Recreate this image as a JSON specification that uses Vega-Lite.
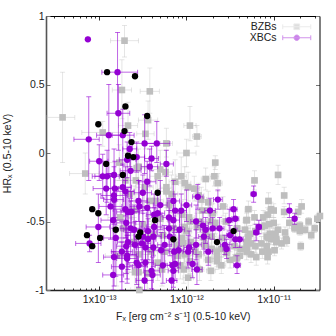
{"$schema":"https://vega.github.io/schema/vega-lite/v6.json","width":273.5,"height":274,"autosize":"none","padding":{"left":46,"top":16,"right":16,"bottom":46},"background":"white",
"config":{"view":{"stroke":null},"font":"Liberation Sans","axis":{"grid":false,"labelFont":"Liberation Sans","titleFont":"Liberation Sans","labelFontSize":10.5,"titleFontSize":10.5,"titleFontWeight":"normal","labelColor":"#222222","titleColor":"#222222","domainColor":"#000000","tickColor":"#333333","labelOverlap":false,"labelFlush":false,"zindex":1}},
"datasets":{
"bzb":[
{"x":-13.42,"y":0.26,"xl":-13.6,"xh":-13.28,"yl":-0.07,"yh":0.59},{"x":-12.71,"y":0.82,"xl":-12.87,"xh":-12.55,"yl":0.7,"yh":0.93},{"x":-12.74,"y":0.46,"xl":-12.85,"xh":-12.63,"yl":0.25,"yh":0.68},{"x":-12.42,"y":0.45,"xl":-12.53,"xh":-12.31,"yl":0.29,"yh":0.62},{"x":-12.96,"y":0.15,"xl":-13.2,"xh":-12.72,"yl":0.05,"yh":0.23},{"x":-12.67,"y":0.2,"xl":-12.78,"xh":-12.56,"yl":0.05,"yh":0.37},{"x":-12.44,"y":0.24,"xl":-12.55,"xh":-12.33,"yl":0.1,"yh":0.38},{"x":-12.47,"y":0.14,"xl":-12.57,"xh":-12.37,"yl":0.03,"yh":0.25},{"x":-12.23,"y":0.07,"xl":-12.3,"xh":-12.16,"yl":-0.03,"yh":0.18},{"x":-12.77,"y":-0.07,"xl":-12.9,"xh":-12.64,"yl":-0.2,"yh":0.06},{"x":-12.57,"y":-0.11,"xl":-12.67,"xh":-12.47,"yl":-0.22,"yh":0},{"x":-11.96,"y":0.2,"xl":-12.03,"xh":-11.89,"yl":0.09,"yh":0.34},{"x":-11.88,"y":0.12,"xl":-11.93,"xh":-11.83,"yl":0.05,"yh":0.2},{"x":-12,"y":0,"xl":-12.11,"xh":-11.89,"yl":-0.1,"yh":0.1},{"x":-11.67,"y":-0.07,"xl":-11.7,"xh":-11.64,"yl":-0.12,"yh":-0.02},{"x":-11.68,"y":-0.17,"xl":-11.73,"xh":-11.63,"yl":-0.24,"yh":-0.1},{"x":-11.78,"y":-0.19,"xl":-11.83,"xh":-11.73,"yl":-0.27,"yh":-0.11},{"x":-11.64,"y":-0.22,"xl":-11.69,"xh":-11.59,"yl":-0.28,"yh":-0.15},{"x":-12.06,"y":-0.17,"xl":-12.12,"xh":-12,"yl":-0.3,"yh":-0.03},{"x":-12.13,"y":-0.21,"xl":-12.2,"xh":-12.06,"yl":-0.35,"yh":-0.05},{"x":-12.24,"y":-0.14,"xl":-12.32,"xh":-12.16,"yl":-0.29,"yh":0.02},{"x":-12.02,"y":-0.22,"xl":-12.09,"xh":-11.95,"yl":-0.34,"yh":-0.1},{"x":-11.98,"y":-0.25,"xl":-12.04,"xh":-11.92,"yl":-0.35,"yh":-0.14},{"x":-11.91,"y":-0.26,"xl":-11.97,"xh":-11.85,"yl":-0.35,"yh":-0.17},{"x":-12.23,"y":-0.25,"xl":-12.3,"xh":-12.16,"yl":-0.4,"yh":-0.1},{"x":-12.23,"y":-0.28,"xl":-12.3,"xh":-12.16,"yl":-0.42,"yh":-0.14},{"x":-12.17,"y":-0.3,"xl":-12.24,"xh":-12.1,"yl":-0.44,"yh":-0.16},{"x":-11.86,"y":-0.31,"xl":-11.92,"xh":-11.8,"yl":-0.4,"yh":-0.22},{"x":-11.83,"y":-0.34,"xl":-11.89,"xh":-11.77,"yl":-0.43,"yh":-0.25},{"x":-11.75,"y":-0.36,"xl":-11.81,"xh":-11.69,"yl":-0.44,"yh":-0.28},{"x":-13.16,"y":-0.15,"xl":-13.34,"xh":-13,"yl":-0.3,"yh":0},{"x":-12.33,"y":-0.17,"xl":-12.42,"xh":-12.24,"yl":-0.3,"yh":-0.03},{"x":-12.3,"y":-0.12,"xl":-12.39,"xh":-12.21,"yl":-0.26,"yh":0.02},{"x":-12.55,"y":-0.1,"xl":-12.65,"xh":-12.45,"yl":-0.23,"yh":0.03},{"x":-12.76,"y":-0.47,"xl":-12.9,"xh":-12.62,"yl":-0.7,"yh":-0.25},{"x":-12.55,"y":-0.87,"xl":-12.66,"xh":-12.44,"yl":-1,"yh":-0.72},{"x":-12.54,"y":-1,"xl":-12.64,"xh":-12.44,"yl":-1,"yh":-0.88},{"x":-12.59,"y":-0.87,"xl":-12.7,"xh":-12.48,"yl":-1,"yh":-0.72},
{"x":-12.72,"y":-0.55,"xl":-12.84,"xh":-12.6,"yl":-0.75,"yh":-0.35},{"x":-12.6,"y":-0.42,"xl":-12.7,"xh":-12.5,"yl":-0.6,"yh":-0.24},{"x":-12.5,"y":-0.52,"xl":-12.6,"xh":-12.4,"yl":-0.68,"yh":-0.36},{"x":-12.45,"y":-0.62,"xl":-12.55,"xh":-12.35,"yl":-0.78,"yh":-0.46},{"x":-12.4,"y":-0.72,"xl":-12.5,"xh":-12.3,"yl":-0.88,"yh":-0.56},{"x":-12.55,"y":-0.74,"xl":-12.66,"xh":-12.44,"yl":-0.92,"yh":-0.56},{"x":-12.35,"y":-0.35,"xl":-12.44,"xh":-12.26,"yl":-0.5,"yh":-0.2},{"x":-12.3,"y":-0.48,"xl":-12.38,"xh":-12.22,"yl":-0.62,"yh":-0.34},{"x":-12.27,"y":-0.6,"xl":-12.35,"xh":-12.19,"yl":-0.74,"yh":-0.46},{"x":-12.25,"y":-0.72,"xl":-12.33,"xh":-12.17,"yl":-0.85,"yh":-0.59},{"x":-12.2,"y":-0.38,"xl":-12.27,"xh":-12.13,"yl":-0.5,"yh":-0.26},{"x":-12.15,"y":-0.55,"xl":-12.22,"xh":-12.08,"yl":-0.67,"yh":-0.43},{"x":-12.12,"y":-0.67,"xl":-12.19,"xh":-12.05,"yl":-0.79,"yh":-0.55},{"x":-12.1,"y":-0.75,"xl":-12.17,"xh":-12.03,"yl":-0.87,"yh":-0.63},{"x":-12.05,"y":-0.45,"xl":-12.11,"xh":-11.99,"yl":-0.55,"yh":-0.35},{"x":-12,"y":-0.57,"xl":-12.06,"xh":-11.94,"yl":-0.67,"yh":-0.47},{"x":-11.95,"y":-0.65,"xl":-12.01,"xh":-11.89,"yl":-0.75,"yh":-0.55},{"x":-11.9,"y":-0.72,"xl":-11.96,"xh":-11.84,"yl":-0.82,"yh":-0.62},{"x":-12.65,"y":-0.3,"xl":-12.76,"xh":-12.54,"yl":-0.48,"yh":-0.12},{"x":-12.58,"y":-0.2,"xl":-12.69,"xh":-12.47,"yl":-0.36,"yh":-0.04},{"x":-12.48,"y":-0.25,"xl":-12.58,"xh":-12.38,"yl":-0.4,"yh":-0.1},{"x":-12.42,"y":-0.35,"xl":-12.52,"xh":-12.32,"yl":-0.5,"yh":-0.2},{"x":-12.38,"y":-0.6,"xl":-12.47,"xh":-12.29,"yl":-0.74,"yh":-0.46},{"x":-12.33,"y":-0.8,"xl":-12.42,"xh":-12.24,"yl":-0.93,"yh":-0.67},{"x":-12.28,"y":-0.85,"xl":-12.36,"xh":-12.2,"yl":-0.97,"yh":-0.73},{"x":-12.45,"y":-0.88,"xl":-12.55,"xh":-12.35,"yl":-1,"yh":-0.74},{"x":-12.6,"y":-0.65,"xl":-12.7,"xh":-12.5,"yl":-0.83,"yh":-0.47},{"x":-12.8,"y":-0.75,"xl":-12.93,"xh":-12.67,"yl":-0.97,"yh":-0.53},{"x":-12.7,"y":-0.2,"xl":-12.82,"xh":-12.58,"yl":-0.4,"yh":0},{"x":-11.85,"y":-0.5,"xl":-11.91,"xh":-11.79,"yl":-0.58,"yh":-0.42},{"x":-11.78,"y":-0.58,"xl":-11.83,"xh":-11.73,"yl":-0.65,"yh":-0.51},{"x":-11.72,"y":-0.5,"xl":-11.77,"xh":-11.67,"yl":-0.57,"yh":-0.43},{"x":-11.6,"y":-0.7,"xl":-11.65,"xh":-11.55,"yl":-0.76,"yh":-0.64},
{"x":-12.05,"y":-0.62,"xl":-12.11,"xh":-11.99,"yl":-0.72,"yh":-0.52},{"x":-11.97,"y":-0.47,"xl":-12.03,"xh":-11.91,"yl":-0.56,"yh":-0.38},{"x":-11.82,"y":-0.42,"xl":-11.87,"xh":-11.77,"yl":-0.5,"yh":-0.34},{"x":-11.7,"y":-0.44,"xl":-11.75,"xh":-11.65,"yl":-0.51,"yh":-0.37},{"x":-11.55,"y":-0.5,"xl":-11.6,"xh":-11.5,"yl":-0.56,"yh":-0.44},{"x":-11.5,"y":-0.78,"xl":-11.54,"xh":-11.46,"yl":-0.84,"yh":-0.72},{"x":-11.6,"y":-0.82,"xl":-11.65,"xh":-11.55,"yl":-0.88,"yh":-0.76},{"x":-11.85,"y":-0.85,"xl":-11.9,"xh":-11.8,"yl":-0.93,"yh":-0.77},{"x":-11.8,"y":-0.62,"xl":-11.85,"xh":-11.75,"yl":-0.7,"yh":-0.54},{"x":-11.45,"y":-0.68,"xl":-11.49,"xh":-11.41,"yl":-0.74,"yh":-0.62},{"x":-11.38,"y":-0.7,"xl":-11.42,"xh":-11.34,"yl":-0.76,"yh":-0.64},{"x":-11.72,"y":-0.86,"xl":-11.77,"xh":-11.67,"yl":-0.93,"yh":-0.79},
{"x":-11.58,"y":-0.39,"xl":-11.63,"xh":-11.53,"yl":-0.46,"yh":-0.32},{"x":-11.75,"y":-0.42,"xl":-11.8,"xh":-11.7,"yl":-0.5,"yh":-0.34},{"x":-11.31,"y":-0.49,"xl":-11.34,"xh":-11.28,"yl":-0.54,"yh":-0.44},{"x":-11.67,"y":-0.51,"xl":-11.72,"xh":-11.62,"yl":-0.59,"yh":-0.43},{"x":-11.96,"y":-0.5,"xl":-12.02,"xh":-11.9,"yl":-0.61,"yh":-0.39},{"x":-12.02,"y":-0.54,"xl":-12.08,"xh":-11.96,"yl":-0.66,"yh":-0.42},{"x":-11.88,"y":-0.54,"xl":-11.94,"xh":-11.82,"yl":-0.64,"yh":-0.44},{"x":-11.33,"y":-0.56,"xl":-11.36,"xh":-11.3,"yl":-0.61,"yh":-0.51},{"x":-11.42,"y":-0.55,"xl":-11.46,"xh":-11.38,"yl":-0.61,"yh":-0.49},{"x":-11.71,"y":-0.61,"xl":-11.76,"xh":-11.66,"yl":-0.68,"yh":-0.54},{"x":-11.59,"y":-0.62,"xl":-11.64,"xh":-11.54,"yl":-0.69,"yh":-0.55},{"x":-11.31,"y":-0.65,"xl":-11.35,"xh":-11.27,"yl":-0.7,"yh":-0.6},{"x":-11.79,"y":-0.67,"xl":-11.85,"xh":-11.73,"yl":-0.75,"yh":-0.59},{"x":-12.04,"y":-0.66,"xl":-12.1,"xh":-11.98,"yl":-0.77,"yh":-0.55},{"x":-11.65,"y":-0.72,"xl":-11.7,"xh":-11.6,"yl":-0.79,"yh":-0.65},{"x":-11.54,"y":-0.73,"xl":-11.58,"xh":-11.5,"yl":-0.79,"yh":-0.67},{"x":-11.42,"y":-0.76,"xl":-11.46,"xh":-11.38,"yl":-0.81,"yh":-0.71},{"x":-11.75,"y":-0.78,"xl":-11.8,"xh":-11.7,"yl":-0.85,"yh":-0.71},{"x":-11.65,"y":-0.79,"xl":-11.7,"xh":-11.6,"yl":-0.85,"yh":-0.73},{"x":-12.02,"y":-0.74,"xl":-12.08,"xh":-11.96,"yl":-0.84,"yh":-0.64},{"x":-11.96,"y":-0.79,"xl":-12.02,"xh":-11.9,"yl":-0.88,"yh":-0.7},{"x":-11.86,"y":-0.74,"xl":-11.92,"xh":-11.8,"yl":-0.82,"yh":-0.66},{"x":-12.07,"y":-0.82,"xl":-12.13,"xh":-12.01,"yl":-0.92,"yh":-0.72},{"x":-12.03,"y":-0.85,"xl":-12.09,"xh":-11.97,"yl":-0.95,"yh":-0.75},{"x":-11.98,"y":-0.91,"xl":-12.04,"xh":-11.92,"yl":-1,"yh":-0.82},{"x":-11.71,"y":-0.7,"xl":-11.76,"xh":-11.66,"yl":-0.77,"yh":-0.63},
{"x":-11.22,"y":-0.2,"xl":-11.25,"xh":-11.19,"yl":-0.27,"yh":-0.13},{"x":-10.95,"y":-0.16,"xl":-10.98,"xh":-10.92,"yl":-0.23,"yh":-0.09},{"x":-10.88,"y":-0.31,"xl":-10.91,"xh":-10.85,"yl":-0.37,"yh":-0.25},{"x":-11.06,"y":-0.35,"xl":-11.09,"xh":-11.03,"yl":-0.41,"yh":-0.29},{"x":-10.68,"y":-0.39,"xl":-10.71,"xh":-10.65,"yl":-0.44,"yh":-0.34},{"x":-11.29,"y":-0.41,"xl":-11.33,"xh":-11.25,"yl":-0.47,"yh":-0.35},{"x":-11.03,"y":-0.41,"xl":-11.06,"xh":-11,"yl":-0.46,"yh":-0.36},{"x":-11,"y":-0.42,"xl":-11.03,"xh":-10.97,"yl":-0.47,"yh":-0.37},{"x":-10.88,"y":-0.43,"xl":-10.91,"xh":-10.85,"yl":-0.47,"yh":-0.39},{"x":-10.72,"y":-0.43,"xl":-10.75,"xh":-10.69,"yl":-0.47,"yh":-0.39},{"x":-11.31,"y":-0.49,"xl":-11.35,"xh":-11.27,"yl":-0.55,"yh":-0.43},{"x":-11.22,"y":-0.47,"xl":-11.25,"xh":-11.19,"yl":-0.52,"yh":-0.42},{"x":-11.12,"y":-0.47,"xl":-11.15,"xh":-11.09,"yl":-0.52,"yh":-0.42},{"x":-11.07,"y":-0.45,"xl":-11.1,"xh":-11.04,"yl":-0.5,"yh":-0.4},{"x":-10.5,"y":-0.48,"xl":-10.52,"xh":-10.48,"yl":-0.51,"yh":-0.45},{"x":-10.47,"y":-0.46,"xl":-10.49,"xh":-10.45,"yl":-0.49,"yh":-0.43},{"x":-10.82,"y":-0.51,"xl":-10.85,"xh":-10.79,"yl":-0.55,"yh":-0.47},{"x":-10.76,"y":-0.54,"xl":-10.78,"xh":-10.74,"yl":-0.57,"yh":-0.51},{"x":-10.7,"y":-0.53,"xl":-10.72,"xh":-10.68,"yl":-0.56,"yh":-0.5},{"x":-10.6,"y":-0.5,"xl":-10.62,"xh":-10.58,"yl":-0.53,"yh":-0.47},{"x":-10.53,"y":-0.55,"xl":-10.55,"xh":-10.51,"yl":-0.58,"yh":-0.52},{"x":-10.57,"y":-0.6,"xl":-10.59,"xh":-10.55,"yl":-0.63,"yh":-0.57},{"x":-10.64,"y":-0.56,"xl":-10.66,"xh":-10.62,"yl":-0.59,"yh":-0.53},{"x":-10.87,"y":-0.58,"xl":-10.9,"xh":-10.84,"yl":-0.62,"yh":-0.54},{"x":-10.76,"y":-0.55,"xl":-10.78,"xh":-10.74,"yl":-0.58,"yh":-0.52},{"x":-10.7,"y":-0.57,"xl":-10.72,"xh":-10.68,"yl":-0.6,"yh":-0.54},{"x":-11.29,"y":-0.61,"xl":-11.33,"xh":-11.25,"yl":-0.67,"yh":-0.55},{"x":-11.21,"y":-0.57,"xl":-11.24,"xh":-11.18,"yl":-0.62,"yh":-0.52},{"x":-11.14,"y":-0.54,"xl":-11.17,"xh":-11.11,"yl":-0.59,"yh":-0.49},{"x":-11.05,"y":-0.52,"xl":-11.08,"xh":-11.02,"yl":-0.57,"yh":-0.47},{"x":-11,"y":-0.51,"xl":-11.03,"xh":-10.97,"yl":-0.55,"yh":-0.47},{"x":-11.1,"y":-0.53,"xl":-11.13,"xh":-11.07,"yl":-0.58,"yh":-0.48},{"x":-10.95,"y":-0.56,"xl":-10.98,"xh":-10.92,"yl":-0.6,"yh":-0.52},{"x":-10.99,"y":-0.6,"xl":-11.02,"xh":-10.96,"yl":-0.64,"yh":-0.56},{"x":-11.08,"y":-0.61,"xl":-11.11,"xh":-11.05,"yl":-0.66,"yh":-0.56},{"x":-11.03,"y":-0.63,"xl":-11.06,"xh":-11,"yl":-0.67,"yh":-0.59},{"x":-10.97,"y":-0.63,"xl":-11,"xh":-10.94,"yl":-0.67,"yh":-0.59},{"x":-10.86,"y":-0.63,"xl":-10.89,"xh":-10.83,"yl":-0.67,"yh":-0.59},{"x":-10.91,"y":-0.66,"xl":-10.94,"xh":-10.88,"yl":-0.7,"yh":-0.62},{"x":-11.08,"y":-0.68,"xl":-11.11,"xh":-11.05,"yl":-0.73,"yh":-0.63},{"x":-11.14,"y":-0.66,"xl":-11.17,"xh":-11.11,"yl":-0.71,"yh":-0.61},{"x":-11.26,"y":-0.66,"xl":-11.3,"xh":-11.22,"yl":-0.72,"yh":-0.6},{"x":-11.31,"y":-0.69,"xl":-11.35,"xh":-11.27,"yl":-0.75,"yh":-0.63},{"x":-11.2,"y":-0.76,"xl":-11.23,"xh":-11.17,"yl":-0.82,"yh":-0.7},{"x":-11.07,"y":-0.76,"xl":-11.1,"xh":-11.04,"yl":-0.81,"yh":-0.71},{"x":-10.99,"y":-0.71,"xl":-11.02,"xh":-10.96,"yl":-0.75,"yh":-0.67},{"x":-10.69,"y":-0.68,"xl":-10.71,"xh":-10.67,"yl":-0.71,"yh":-0.65},{"x":-11.39,"y":-0.75,"xl":-11.43,"xh":-11.35,"yl":-0.81,"yh":-0.69},{"x":-11.43,"y":-0.77,"xl":-11.47,"xh":-11.39,"yl":-0.83,"yh":-0.71},{"x":-11.26,"y":-0.74,"xl":-11.3,"xh":-11.22,"yl":-0.8,"yh":-0.68},{"x":-11.65,"y":-0.76,"xl":-11.7,"xh":-11.6,"yl":-0.83,"yh":-0.69},{"x":-11.27,"y":-0.59,"xl":-11.31,"xh":-11.23,"yl":-0.65,"yh":-0.53},{"x":-11.04,"y":-0.59,"xl":-11.07,"xh":-11.01,"yl":-0.63,"yh":-0.55},{"x":-10.98,"y":-0.59,"xl":-11.01,"xh":-10.95,"yl":-0.63,"yh":-0.55},{"x":-11.06,"y":-0.62,"xl":-11.09,"xh":-11.03,"yl":-0.66,"yh":-0.58},{"x":-10.97,"y":-0.65,"xl":-11,"xh":-10.94,"yl":-0.69,"yh":-0.61},{"x":-10.85,"y":-0.64,"xl":-10.88,"xh":-10.82,"yl":-0.68,"yh":-0.6},{"x":-11.21,"y":-0.68,"xl":-11.24,"xh":-11.18,"yl":-0.73,"yh":-0.63},{"x":-11.31,"y":-0.72,"xl":-11.35,"xh":-11.27,"yl":-0.78,"yh":-0.66},{"x":-11.13,"y":-0.72,"xl":-11.16,"xh":-11.1,"yl":-0.77,"yh":-0.67},{"x":-11.06,"y":-0.72,"xl":-11.09,"xh":-11.03,"yl":-0.77,"yh":-0.67}
],
"xbc":[
{"x":-13.13,"y":0.83,"xl":-13.13,"xh":-13.13,"yl":0.83,"yh":0.83},{"x":-12.79,"y":0.59,"xl":-12.97,"xh":-12.56,"yl":0.3,"yh":0.88},{"x":-13.12,"y":0.1,"xl":-13.29,"xh":-13,"yl":-0.2,"yh":0.41},{"x":-12.78,"y":0.29,"xl":-12.91,"xh":-12.65,"yl":0.02,"yh":0.5},{"x":-12.89,"y":0.13,"xl":-13.03,"xh":-12.73,"yl":-0.15,"yh":0.5},{"x":-12.73,"y":0.13,"xl":-12.85,"xh":-12.6,"yl":-0.09,"yh":0.32},{"x":-12.48,"y":0.07,"xl":-12.62,"xh":-12.34,"yl":-0.15,"yh":0.28},{"x":-12.34,"y":0.07,"xl":-12.48,"xh":-12.19,"yl":-0.07,"yh":0.23},{"x":-13,"y":-0.06,"xl":-13.11,"xh":-12.9,"yl":-0.2,"yh":0.06},{"x":-12.65,"y":0.03,"xl":-12.73,"xh":-12.57,"yl":-0.1,"yh":0.15},{"x":-12.68,"y":-0.05,"xl":-12.77,"xh":-12.58,"yl":-0.18,"yh":0.08},{"x":-12.57,"y":-0.03,"xl":-12.66,"xh":-12.48,"yl":-0.14,"yh":0.08},{"x":-12.4,"y":-0.04,"xl":-12.48,"xh":-12.32,"yl":-0.13,"yh":0.05},{"x":-12.42,"y":-0.1,"xl":-12.52,"xh":-12.33,"yl":-0.24,"yh":0.03},{"x":-12.23,"y":-0.08,"xl":-12.3,"xh":-12.15,"yl":-0.17,"yh":0.02},{"x":-12.91,"y":-0.17,"xl":-13.05,"xh":-12.77,"yl":-0.36,"yh":0.02},{"x":-12.96,"y":-0.17,"xl":-13.08,"xh":-12.83,"yl":-0.33,"yh":-0.01},{"x":-12.83,"y":-0.16,"xl":-12.96,"xh":-12.7,"yl":-0.36,"yh":0.03},{"x":-12.64,"y":-0.13,"xl":-12.76,"xh":-12.52,"yl":-0.33,"yh":0.05},{"x":-12.45,"y":-0.21,"xl":-12.55,"xh":-12.35,"yl":-0.36,"yh":-0.06},{"x":-12.92,"y":-0.26,"xl":-13.07,"xh":-12.78,"yl":-0.45,"yh":-0.08},{"x":-12.82,"y":-0.26,"xl":-12.94,"xh":-12.7,"yl":-0.47,"yh":-0.06},{"x":-12.73,"y":-0.25,"xl":-12.83,"xh":-12.63,"yl":-0.42,"yh":-0.08},{"x":-12.7,"y":-0.28,"xl":-12.8,"xh":-12.6,"yl":-0.46,"yh":-0.1},{"x":-12.5,"y":-0.29,"xl":-12.6,"xh":-12.4,"yl":-0.42,"yh":-0.16},{"x":-12.83,"y":-0.31,"xl":-12.98,"xh":-12.68,"yl":-0.52,"yh":-0.1},{"x":-12.83,"y":-0.34,"xl":-12.95,"xh":-12.72,"yl":-0.55,"yh":-0.15},{"x":-12.55,"y":-0.35,"xl":-12.65,"xh":-12.45,"yl":-0.5,"yh":-0.2},{"x":-12.7,"y":-0.41,"xl":-12.84,"xh":-12.56,"yl":-0.62,"yh":-0.2},{"x":-12.67,"y":-0.43,"xl":-12.8,"xh":-12.54,"yl":-0.6,"yh":-0.25},{"x":-12.63,"y":-0.43,"xl":-12.75,"xh":-12.5,"yl":-0.58,"yh":-0.28},{"x":-12.54,"y":-0.39,"xl":-12.65,"xh":-12.43,"yl":-0.58,"yh":-0.2},{"x":-12.45,"y":-0.4,"xl":-12.55,"xh":-12.35,"yl":-0.58,"yh":-0.22},{"x":-12.87,"y":-0.39,"xl":-13,"xh":-12.74,"yl":-0.63,"yh":-0.15},{"x":-12.37,"y":-0.45,"xl":-12.46,"xh":-12.28,"yl":-0.6,"yh":-0.3},{"x":-12.84,"y":-0.49,"xl":-12.98,"xh":-12.7,"yl":-0.75,"yh":-0.25},{"x":-12.69,"y":-0.51,"xl":-12.8,"xh":-12.58,"yl":-0.72,"yh":-0.3},{"x":-13.01,"y":-0.54,"xl":-13.15,"xh":-12.88,"yl":-0.8,"yh":-0.3},{"x":-12.6,"y":-0.56,"xl":-12.72,"xh":-12.48,"yl":-0.74,"yh":-0.38},{"x":-12.44,"y":-0.57,"xl":-12.54,"xh":-12.34,"yl":-0.72,"yh":-0.42},{"x":-12.37,"y":-0.54,"xl":-12.46,"xh":-12.28,"yl":-0.68,"yh":-0.4},{"x":-12.5,"y":-0.61,"xl":-12.6,"xh":-12.4,"yl":-0.78,"yh":-0.44},{"x":-12.81,"y":-0.62,"xl":-12.95,"xh":-12.67,"yl":-0.9,"yh":-0.35},{"x":-12.38,"y":-0.61,"xl":-12.47,"xh":-12.29,"yl":-0.75,"yh":-0.47},{"x":-12.44,"y":-0.63,"xl":-12.53,"xh":-12.35,"yl":-0.78,"yh":-0.48},{"x":-12.67,"y":-0.65,"xl":-12.79,"xh":-12.55,"yl":-0.85,"yh":-0.45},{"x":-13.11,"y":-0.66,"xl":-13.27,"xh":-12.98,"yl":-0.72,"yh":-0.6},{"x":-12.69,"y":-0.68,"xl":-12.8,"xh":-12.58,"yl":-0.88,"yh":-0.5},{"x":-12.38,"y":-0.69,"xl":-12.47,"xh":-12.29,"yl":-0.83,"yh":-0.55},{"x":-12.51,"y":-0.66,"xl":-12.62,"xh":-12.41,"yl":-0.83,"yh":-0.5},{"x":-12.47,"y":-0.69,"xl":-12.57,"xh":-12.37,"yl":-0.83,"yh":-0.55},{"x":-12.74,"y":-0.72,"xl":-12.86,"xh":-12.62,"yl":-0.94,"yh":-0.5},{"x":-12.83,"y":-0.76,"xl":-12.95,"xh":-12.7,"yl":-0.97,"yh":-0.55},{"x":-12.68,"y":-0.75,"xl":-12.79,"xh":-12.57,"yl":-0.92,"yh":-0.58},{"x":-12.68,"y":-0.77,"xl":-12.8,"xh":-12.56,"yl":-0.95,"yh":-0.6},{"x":-12.57,"y":-0.8,"xl":-12.67,"xh":-12.47,"yl":-0.96,"yh":-0.63},{"x":-12.47,"y":-0.8,"xl":-12.56,"xh":-12.38,"yl":-0.95,"yh":-0.65},{"x":-12.29,"y":-0.71,"xl":-12.38,"xh":-12.2,"yl":-0.84,"yh":-0.58},{"x":-12.74,"y":-0.83,"xl":-12.86,"xh":-12.62,"yl":-1,"yh":-0.65},{"x":-12.4,"y":-0.86,"xl":-12.49,"xh":-12.31,"yl":-0.99,"yh":-0.72},{"x":-12.39,"y":-0.89,"xl":-12.48,"xh":-12.3,"yl":-1,"yh":-0.76},{"x":-12.84,"y":-0.89,"xl":-12.96,"xh":-12.72,"yl":-1,"yh":-0.72},{"x":-12.48,"y":-0.93,"xl":-12.58,"xh":-12.38,"yl":-1,"yh":-0.8},{"x":-12.27,"y":-0.82,"xl":-12.36,"xh":-12.18,"yl":-0.95,"yh":-0.68},{"x":-12.55,"y":-0.82,"xl":-12.65,"xh":-12.45,"yl":-0.98,"yh":-0.66},{"x":-12.15,"y":-0.35,"xl":-12.22,"xh":-12.08,"yl":-0.5,"yh":-0.2},{"x":-12,"y":-0.38,"xl":-12.06,"xh":-11.94,"yl":-0.5,"yh":-0.27},{"x":-11.87,"y":-0.32,"xl":-11.93,"xh":-11.81,"yl":-0.41,"yh":-0.23},{"x":-11.64,"y":-0.34,"xl":-11.69,"xh":-11.59,"yl":-0.41,"yh":-0.27},{"x":-11.23,"y":-0.3,"xl":-11.26,"xh":-11.2,"yl":-0.36,"yh":-0.24},{"x":-11.46,"y":-0.41,"xl":-11.5,"xh":-11.42,"yl":-0.49,"yh":-0.34},{"x":-11.73,"y":-0.42,"xl":-11.79,"xh":-11.67,"yl":-0.51,"yh":-0.33},{"x":-12.06,"y":-0.42,"xl":-12.12,"xh":-12,"yl":-0.54,"yh":-0.3},{"x":-12.13,"y":-0.42,"xl":-12.19,"xh":-12.07,"yl":-0.54,"yh":-0.3},{"x":-12.15,"y":-0.49,"xl":-12.21,"xh":-12.08,"yl":-0.62,"yh":-0.36},{"x":-11.89,"y":-0.5,"xl":-11.95,"xh":-11.83,"yl":-0.62,"yh":-0.38},{"x":-11.81,"y":-0.53,"xl":-11.87,"xh":-11.75,"yl":-0.63,"yh":-0.43},{"x":-11.51,"y":-0.49,"xl":-11.55,"xh":-11.47,"yl":-0.57,"yh":-0.41},{"x":-11.44,"y":-0.48,"xl":-11.48,"xh":-11.4,"yl":-0.55,"yh":-0.41},{"x":-11.7,"y":-0.55,"xl":-11.75,"xh":-11.65,"yl":-0.63,"yh":-0.47},{"x":-11.62,"y":-0.55,"xl":-11.67,"xh":-11.57,"yl":-0.63,"yh":-0.47},{"x":-11.78,"y":-0.56,"xl":-11.84,"xh":-11.72,"yl":-0.66,"yh":-0.47},{"x":-12.08,"y":-0.56,"xl":-12.14,"xh":-12.02,"yl":-0.68,"yh":-0.44},{"x":-11.8,"y":-0.61,"xl":-11.86,"xh":-11.74,"yl":-0.7,"yh":-0.52},{"x":-11.5,"y":-0.6,"xl":-11.54,"xh":-11.46,"yl":-0.67,"yh":-0.53},{"x":-11.44,"y":-0.63,"xl":-11.48,"xh":-11.4,"yl":-0.69,"yh":-0.56},{"x":-11.39,"y":-0.63,"xl":-11.43,"xh":-11.35,"yl":-0.69,"yh":-0.57},{"x":-11.56,"y":-0.67,"xl":-11.61,"xh":-11.51,"yl":-0.74,"yh":-0.6},{"x":-11.54,"y":-0.7,"xl":-11.58,"xh":-11.5,"yl":-0.77,"yh":-0.63},{"x":-11.75,"y":-0.72,"xl":-11.8,"xh":-11.7,"yl":-0.82,"yh":-0.62},{"x":-11.89,"y":-0.67,"xl":-11.95,"xh":-11.83,"yl":-0.78,"yh":-0.56},{"x":-11.97,"y":-0.69,"xl":-12.03,"xh":-11.91,"yl":-0.8,"yh":-0.57},{"x":-11.98,"y":-0.72,"xl":-12.04,"xh":-11.92,"yl":-0.84,"yh":-0.6},{"x":-12.09,"y":-0.71,"xl":-12.15,"xh":-12.03,"yl":-0.84,"yh":-0.58},{"x":-12.14,"y":-0.72,"xl":-12.2,"xh":-12.08,"yl":-0.86,"yh":-0.58},{"x":-11.42,"y":-0.82,"xl":-11.46,"xh":-11.38,"yl":-0.88,"yh":-0.75},{"x":-11.93,"y":-0.81,"xl":-11.99,"xh":-11.87,"yl":-0.91,"yh":-0.7},{"x":-11.88,"y":-0.85,"xl":-11.94,"xh":-11.82,"yl":-0.96,"yh":-0.74},{"x":-12.16,"y":-0.82,"xl":-12.22,"xh":-12.1,"yl":-0.95,"yh":-0.7},{"x":-12.13,"y":-0.81,"xl":-12.19,"xh":-12.07,"yl":-0.93,"yh":-0.7},{"x":-12.15,"y":-0.86,"xl":-12.21,"xh":-12.09,"yl":-0.98,"yh":-0.73},{"x":-12.17,"y":-0.93,"xl":-12.23,"xh":-12.11,"yl":-1,"yh":-0.8},{"x":-11.2,"y":-0.58,"xl":-11.23,"xh":-11.17,"yl":-0.64,"yh":-0.52},{"x":-11.17,"y":-0.54,"xl":-11.2,"xh":-11.14,"yl":-0.59,"yh":-0.49},{"x":-10.82,"y":-0.42,"xl":-10.84,"xh":-10.8,"yl":-0.47,"yh":-0.37},{"x":-10.76,"y":-0.48,"xl":-10.78,"xh":-10.74,"yl":-0.52,"yh":-0.44},{"x":-12.2,"y":-0.47,"xl":-12.27,"xh":-12.13,"yl":-0.62,"yh":-0.33},{"x":-12.19,"y":-0.61,"xl":-12.25,"xh":-12.13,"yl":-0.75,"yh":-0.47},{"x":-12.2,"y":-0.55,"xl":-12.26,"xh":-12.14,"yl":-0.68,"yh":-0.42},{"x":-12.3,"y":-0.38,"xl":-12.38,"xh":-12.22,"yl":-0.56,"yh":-0.2},{"x":-12.25,"y":-0.67,"xl":-12.33,"xh":-12.17,"yl":-0.81,"yh":-0.53},{"x":-12.33,"y":-0.44,"xl":-12.41,"xh":-12.25,"yl":-0.6,"yh":-0.28},{"x":-12.59,"y":-0.67,"xl":-12.69,"xh":-12.49,"yl":-0.84,"yh":-0.5},{"x":-12.64,"y":-0.55,"xl":-12.76,"xh":-12.52,"yl":-0.74,"yh":-0.35}
],
"blk":[{"x":-12.91,"y":0.59},{"x":-12.59,"y":0.56},{"x":-12.7,"y":0.34},{"x":-12.45,"y":0.27},{"x":-13.01,"y":0.21},{"x":-12.71,"y":0.16},{"x":-12.63,"y":0.08},{"x":-12.67,"y":-0.02},{"x":-12.61,"y":-0.03},{"x":-12.92,"y":-0.08},{"x":-12.73,"y":-0.16},{"x":-12.33,"y":-0.29},{"x":-13.08,"y":-0.41},{"x":-13.01,"y":-0.44},{"x":-12.36,"y":-0.49},{"x":-12.81,"y":-0.56},{"x":-12.53,"y":-0.58},{"x":-12.55,"y":-0.61},{"x":-13.14,"y":-0.6},{"x":-12.99,"y":-0.62},{"x":-13.08,"y":-0.68},{"x":-12.15,"y":-0.63},{"x":-11.65,"y":-0.65},{"x":-11.46,"y":-0.57}],
"leg":[{"series":"BZBs","x":-11.22,"y":-0.2},{"series":"XBCs","x":-11.23,"y":-0.3}]
},
"resolve":{"axis":{"x":"independent","y":"independent"}},
"layer":[
{"data":{"name":"bzb"},"mark":{"type":"rule","clip":true,"color":"#bebebe","opacity":0.4,"strokeWidth":1},"encoding":{
"x":{"field":"x","type":"quantitative","scale":{"domain":[-13.61,-10.475],"nice":false,"zero":false},"axis":{"orient":"bottom","title":"Fₓ [erg cm⁻² s⁻¹] (0.5-10 keV)","titlePadding":5,"labelPadding":8,"domainColor":"#222222","domainWidth":1.3,"values":[-13.523,-13.398,-13.301,-13.222,-13.155,-13.097,-13.046,-13,-12.699,-12.523,-12.398,-12.301,-12.222,-12.155,-12.097,-12.046,-12,-11.699,-11.523,-11.398,-11.301,-11.222,-11.155,-11.097,-11.046,-11,-10.699,-10.523],"labelExpr":"datum.value==-13?'1x10⁻¹³':datum.value==-12?'1x10⁻¹²':datum.value==-11?'1x10⁻¹¹':''","tickSize":{"condition":{"test":"datum.value==-13||datum.value==-12||datum.value==-11","value":-4},"value":-2}}},
"y":{"field":"yl","type":"quantitative","scale":{"domain":[-1,1],"nice":false,"zero":false},"axis":{"orient":"left","title":"HRₓ (0.5-10 keV)","titlePadding":13,"labelPadding":6,"domainColor":"#555555","domainWidth":1.6,"tickColor":"#777777","values":[-1,-0.5,0,0.5,1],"tickSize":-4,"labelExpr":"''+datum.value"}},"y2":{"field":"yh"}}},
{"data":{"name":"bzb"},"mark":{"type":"rule","clip":true,"color":"#bebebe","opacity":0.4,"strokeWidth":1},"encoding":{
"x":{"field":"xl","type":"quantitative","axis":{"orient":"top","title":null,"labels":false,"values":[-13.523,-13.398,-13.301,-13.222,-13.155,-13.097,-13.046,-13,-12.699,-12.523,-12.398,-12.301,-12.222,-12.155,-12.097,-12.046,-12,-11.699,-11.523,-11.398,-11.301,-11.222,-11.155,-11.097,-11.046,-11,-10.699,-10.523],"tickSize":{"condition":{"test":"datum.value==-13||datum.value==-12||datum.value==-11","value":-4},"value":-2}}},"x2":{"field":"xh"},
"y":{"field":"y","type":"quantitative","axis":{"orient":"right","title":null,"labels":false,"values":[-1,-0.5,0,0.5,1],"tickSize":-4,"tickColor":"#777777"}}}},
{"data":{"name":"bzb"},"mark":{"type":"tick","orient":"horizontal","clip":true,"color":"#bebebe","opacity":0.4,"size":5,"thickness":1},"encoding":{"x":{"field":"x","type":"quantitative","axis":null},"y":{"field":"yl","type":"quantitative","axis":null}}},
{"data":{"name":"bzb"},"mark":{"type":"tick","orient":"horizontal","clip":true,"color":"#bebebe","opacity":0.4,"size":5,"thickness":1},"encoding":{"x":{"field":"x","type":"quantitative","axis":null},"y":{"field":"yh","type":"quantitative","axis":null}}},
{"data":{"name":"bzb"},"mark":{"type":"tick","orient":"vertical","clip":true,"color":"#bebebe","opacity":0.4,"size":5,"thickness":1},"encoding":{"x":{"field":"xl","type":"quantitative","axis":null},"y":{"field":"y","type":"quantitative","axis":null}}},
{"data":{"name":"bzb"},"mark":{"type":"tick","orient":"vertical","clip":true,"color":"#bebebe","opacity":0.4,"size":5,"thickness":1},"encoding":{"x":{"field":"xh","type":"quantitative","axis":null},"y":{"field":"y","type":"quantitative","axis":null}}},
{"data":{"name":"bzb"},"mark":{"type":"point","shape":"square","filled":true,"color":"#bebebe","opacity":1,"size":44},"encoding":{"x":{"field":"x","type":"quantitative","axis":null},"y":{"field":"y","type":"quantitative","axis":null}}},
{"data":{"name":"xbc"},"mark":{"type":"rule","clip":true,"color":"#9400d3","opacity":0.6,"strokeWidth":1},"encoding":{"x":{"field":"x","type":"quantitative","axis":null},"y":{"field":"yl","type":"quantitative","axis":null},"y2":{"field":"yh"}}},
{"data":{"name":"xbc"},"mark":{"type":"rule","clip":true,"color":"#9400d3","opacity":0.6,"strokeWidth":1},"encoding":{"x":{"field":"xl","type":"quantitative","axis":null},"x2":{"field":"xh"},"y":{"field":"y","type":"quantitative","axis":null}}},
{"data":{"name":"xbc"},"mark":{"type":"tick","orient":"horizontal","clip":true,"color":"#9400d3","opacity":0.6,"size":5,"thickness":1},"encoding":{"x":{"field":"x","type":"quantitative","axis":null},"y":{"field":"yl","type":"quantitative","axis":null}}},
{"data":{"name":"xbc"},"mark":{"type":"tick","orient":"horizontal","clip":true,"color":"#9400d3","opacity":0.6,"size":5,"thickness":1},"encoding":{"x":{"field":"x","type":"quantitative","axis":null},"y":{"field":"yh","type":"quantitative","axis":null}}},
{"data":{"name":"xbc"},"mark":{"type":"tick","orient":"vertical","clip":true,"color":"#9400d3","opacity":0.6,"size":5,"thickness":1},"encoding":{"x":{"field":"xl","type":"quantitative","axis":null},"y":{"field":"y","type":"quantitative","axis":null}}},
{"data":{"name":"xbc"},"mark":{"type":"tick","orient":"vertical","clip":true,"color":"#9400d3","opacity":0.6,"size":5,"thickness":1},"encoding":{"x":{"field":"xh","type":"quantitative","axis":null},"y":{"field":"y","type":"quantitative","axis":null}}},
{"data":{"name":"xbc"},"mark":{"type":"point","shape":"circle","filled":true,"color":"#9400d3","opacity":1,"size":40},"encoding":{"x":{"field":"x","type":"quantitative","axis":null},"y":{"field":"y","type":"quantitative","axis":null}}},
{"data":{"name":"blk"},"mark":{"type":"point","shape":"circle","filled":true,"color":"#000000","opacity":1,"size":40},"encoding":{"x":{"field":"x","type":"quantitative","axis":null},"y":{"field":"y","type":"quantitative","axis":null}}},
{"data":{"name":"leg"},"mark":{"type":"point","filled":true,"size":0},"encoding":{"x":{"field":"x","type":"quantitative","axis":null},"y":{"field":"y","type":"quantitative","axis":null},
"fill":{"field":"series","type":"nominal","scale":{"domain":["BZBs","XBCs"],"range":["#bebebe","#9400d3"]},"legend":{"title":null,"orient":"none","legendX":245.5,"legendY":5.5,"padding":0,"symbolSize":36,"symbolStrokeWidth":1,"labelFont":"Liberation Sans","labelFontSize":10.5,"labelColor":"#222222","labelAlign":"right","labelOffset":-25.5,"rowPadding":-3.7}},
"stroke":{"field":"series","type":"nominal","scale":{"domain":["BZBs","XBCs"],"range":["#e3e3e3","#bf66e5"]}},
"shape":{"field":"series","type":"nominal","scale":{"domain":["BZBs","XBCs"],"range":["M-4.67,0H4.67M-4.67,-.8V.8M4.67,-.8V.8M-.95,-.95H.95V.95H-.95Z","M-4.67,0H4.67M-4.67,-.8V.8M4.67,-.8V.8M-.9,0A.9,.9 0 1,1 .9,0A.9,.9 0 1,1 -.9,0Z"]}}}}
]}
